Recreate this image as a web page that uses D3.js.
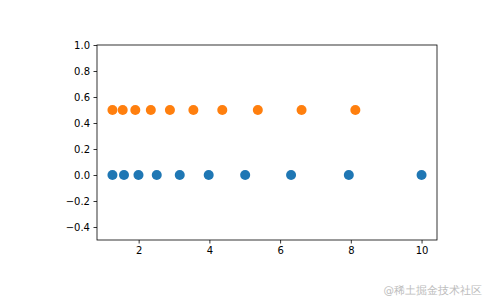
<!DOCTYPE html>
<html>
<head>
<meta charset="utf-8">
<script src="https://cdn.jsdelivr.net/npm/d3@7"></script>
<style>
  body { margin: 0; background: #fff; }
  text { font-family: "DejaVu Sans", sans-serif; }
</style>
</head>
<body>
<svg id="chart" width="485" height="300"></svg>
<script>
// blue row at y = 0, orange row at y = 0.5
const blueX = [1.259, 1.585, 1.995, 2.512, 3.162, 3.981, 5.012, 6.310, 7.943, 10.0];
const blueY = [0, 0, 0, 0, 0, 0, 0, 0, 0, 0];
const orangeX = [1.259, 1.549, 1.905, 2.344, 2.884, 3.548, 4.365, 5.370, 6.607, 8.128];
const orangeY = [0.5, 0.5, 0.5, 0.5, 0.5, 0.5, 0.5, 0.5, 0.5, 0.5];
const xTicks = [2, 4, 6, 8, 10];
const yTicks = [-0.4, -0.2, 0.0, 0.2, 0.4, 0.6, 0.8, 1.0];

(function chart() {
  const svg = d3.select("#chart");
  const left = 97, right = 437, top = 45, bottom = 240;

  const x = d3.scaleLinear().domain([0.822, 10.437]).range([left, right]);
  const y = d3.scaleLinear().domain([-0.5, 1.0]).range([bottom, top]);

  const series = [
    {xs: blueX, ys: blueY, color: "#1f77b4"},
    {xs: orangeX, ys: orangeY, color: "#ff7f0e"}
  ];

  series.forEach(s => {
    svg.append("g")
      .selectAll("circle")
      .data(s.xs.map((d, i) => [d, s.ys[i]]))
      .join("circle")
        .attr("cx", d => x(d[0]))
        .attr("cy", d => y(d[1]))
        .attr("r", 5)
        .attr("fill", s.color);
  });

  const xAxis = svg.append("g")
      .attr("transform", `translate(0,${bottom})`)
      .call(d3.axisBottom(x).tickValues(xTicks).tickFormat(d3.format("d")).tickSize(3.5).tickPadding(3.5));

  const yAxis = svg.append("g")
      .attr("transform", `translate(${left},0)`)
      .call(d3.axisLeft(y).tickValues(yTicks).tickFormat(d => d3.format(".1f")(d).replace("-", "\u2212")).tickSize(3.5).tickPadding(3.5));

  [xAxis, yAxis].forEach(a => {
    a.select(".domain").remove();
    a.selectAll("text").attr("font-size", 10).attr("fill", "#000").attr("font-family", "DejaVu Sans, sans-serif");
    a.selectAll("line").attr("stroke", "#000").attr("stroke-width", 0.8);
  });

  svg.append("rect")
      .attr("x", left).attr("y", top)
      .attr("width", right - left).attr("height", bottom - top)
      .attr("fill", "none").attr("stroke", "#000").attr("stroke-width", 0.8);

  svg.append("text")
      .attr("x", 482).attr("y", 294)
      .attr("text-anchor", "end")
      .attr("font-size", 10.5)
      .attr("font-family", "Noto Sans CJK SC, sans-serif")
      .attr("fill", "#bdbdbd")
      .text("@稀土掘金技术社区");
})();
</script>
</body>
</html>
